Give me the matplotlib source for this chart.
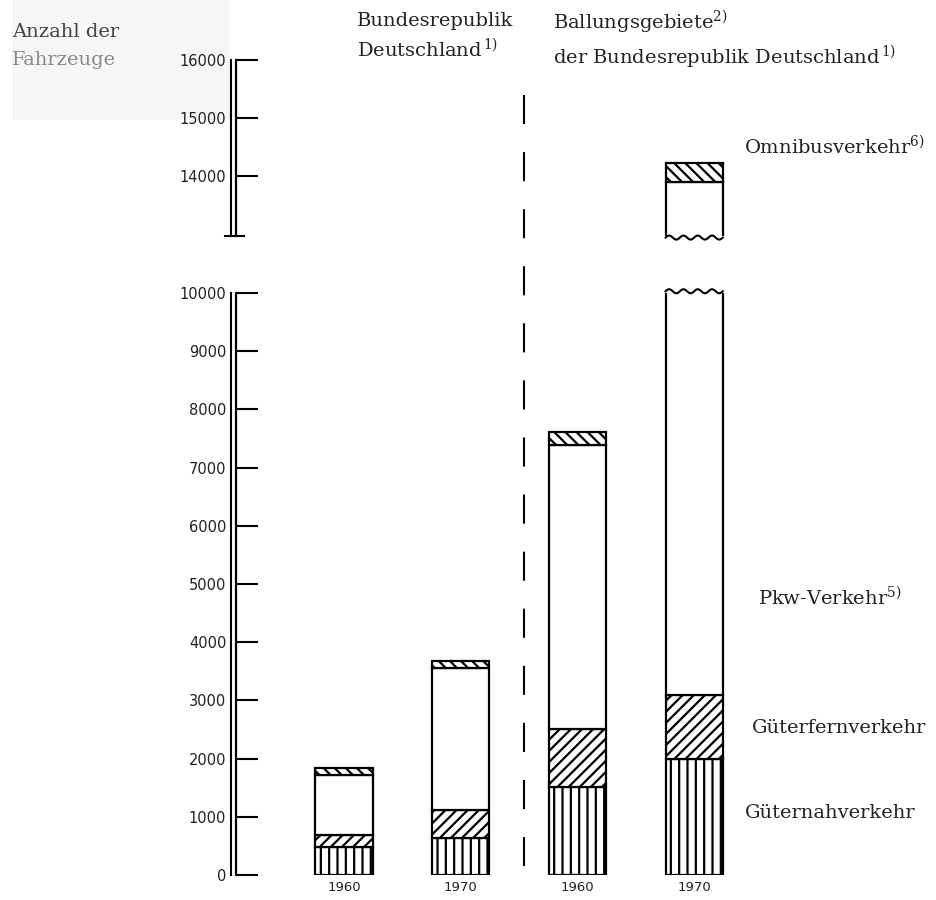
import numpy as np
import matplotlib
matplotlib.use("Agg")
import matplotlib.pyplot as plt
from matplotlib.lines import Line2D
from matplotlib.patches import Rectangle
from matplotlib import transforms

# ---------------- data ----------------
years = ["1960", "1970", "1960", "1970"]
guternah = [480, 640, 1520, 2000]      # Güternahverkehr
guterfern = [200, 470, 990, 1100]      # Güterfernverkehr
pkw = [1040, 2450, 4870, 10800]        # Pkw-Verkehr
omnibus = [120, 120, 240, 330]         # Omnibusverkehr
lower_ticks = list(range(0, 10001, 1000))
upper_ticks = [14000, 15000, 16000]
lower_lim = (0, 10000)
upper_lim = (12970, 16000)

plt.rcParams["font.family"] = ["DejaVu Serif"]
plt.rcParams["mathtext.fontset"] = "dejavuserif"
plt.rcParams["hatch.linewidth"] = 1.6
plt.rcParams["lines.scale_dashes"] = False

W, H = 937, 900
fig = plt.figure(figsize=(W / 100, H / 100), dpi=100)


def fx(px):
    return px / W


def fy(py):
    return 1 - py / H


# faint scanned background box
fig.add_artist(Rectangle((fx(12), fy(120)), fx(230) - fx(12), fy(0) - fy(120),
                         transform=fig.transFigure, facecolor="#f6f6f6",
                         edgecolor="none", zorder=0))

left_px, right_px = 236, 937
ax_lo = fig.add_axes([fx(left_px), fy(875), fx(right_px) - fx(left_px), fy(293) - fy(875)])
ax_hi = fig.add_axes([fx(left_px), fy(236.4), fx(right_px) - fx(left_px), fy(60) - fy(236.4)])

x = np.arange(len(years))
width = 0.49
xlim = (-0.925, 5.08)
hatches = ["||", "///", "", "\\\\\\"]
series = [guternah, guterfern, pkw, omnibus]

for ax, lim, ticks in [(ax_lo, lower_lim, lower_ticks), (ax_hi, upper_lim, upper_ticks)]:
    ax.patch.set_alpha(0)
    bottom = np.zeros(len(years))
    for vals, h in zip(series, hatches):
        ax.bar(x, vals, width, bottom=bottom, facecolor="white", edgecolor="black",
               linewidth=1.6, hatch=h, zorder=2)
        bottom = bottom + np.array(vals)
    ax.set_xlim(*xlim)
    ax.set_ylim(*lim)
    ax.set_yticks(ticks)
    ax.set_yticklabels([str(t) for t in ticks], fontfamily="DejaVu Sans", fontsize=10.5,
                       color="#222222")
    for s in ["top", "right", "bottom"]:
        ax.spines[s].set_visible(False)
    ax.spines["left"].set_linewidth(1.6)
    ax.tick_params(axis="y", direction="in", length=16, width=1.5, pad=7)
    # double line of the axis
    tr = transforms.offset_copy(ax.transAxes, fig=fig, x=-5, y=0, units="dots")
    ax.add_line(Line2D([0, 0], [0, 1], transform=tr, color="black", lw=1.5, clip_on=False))

ax_lo.set_xticks(x)
ax_lo.set_xticklabels(years, fontfamily="DejaVu Sans", fontsize=9.5, color="#222222")
ax_lo.tick_params(axis="x", length=0, pad=4)
ax_hi.set_xticks([])

# break mark at the bottom of the upper axis
ax_hi.add_line(Line2D([-0.015, 0.012], [0, 0], transform=ax_hi.transAxes, color="black",
                      lw=1.5, clip_on=False))

# wavy break lines of the tallest bar
i_big = int(np.argmax(np.array(guternah) + np.array(guterfern) + np.array(pkw)))
wx = np.linspace(x[i_big] - width / 2, x[i_big] + width / 2, 60)
phase = np.linspace(0, 8 * np.pi, 60)
ax_lo.plot(wx, lower_lim[1] + 30 + 35 * np.sin(phase), color="black", lw=1.5,
           clip_on=False, zorder=3)
ax_hi.plot(wx, upper_lim[0] - 20 + 35 * np.sin(phase), color="black", lw=1.5,
           clip_on=False, zorder=3)

# dashed divider
fig.add_artist(Line2D([fx(524), fx(524)], [fy(95), fy(866)], transform=fig.transFigure,
                      color="black", lw=1.5, dashes=(20.9, 20.2)))

# texts
tc = "#222222"
fs = 14
fig.text(fx(12), fy(32), "Anzahl der", fontsize=fs, color="#444444", va="center", ha="left")
fig.text(fx(12), fy(60), "Fahrzeuge", fontsize=fs, color="#8a8a8a", va="center", ha="left")
fig.text(fx(357), fy(21), "Bundesrepublik", fontsize=fs, color=tc, va="center", ha="left")
fig.text(fx(357), fy(49), "Deutschland$^{\\,1)}$", fontsize=fs, color=tc, va="center", ha="left")
fig.text(fx(553), fy(22), "Ballungsgebiete$^{2)}$", fontsize=fs, color=tc, va="center", ha="left")
fig.text(fx(553), fy(57), "der Bundesrepublik Deutschland$^{\\,1)}$", fontsize=fs, color=tc,
         va="center", ha="left")
fig.text(fx(744), fy(146), "Omnibusverkehr$^{6)}$", fontsize=fs, color=tc, va="center", ha="left")
fig.text(fx(758), fy(597), "Pkw-Verkehr$^{5)}$", fontsize=fs, color=tc, va="center", ha="left")
fig.text(fx(752), fy(728), "Güterfernverkehr", fontsize=fs, color=tc, va="center", ha="left")
fig.text(fx(745), fy(813), "Güternahverkehr", fontsize=fs, color=tc, va="center", ha="left")

fig.savefig("out.png", dpi=100, facecolor="white")
